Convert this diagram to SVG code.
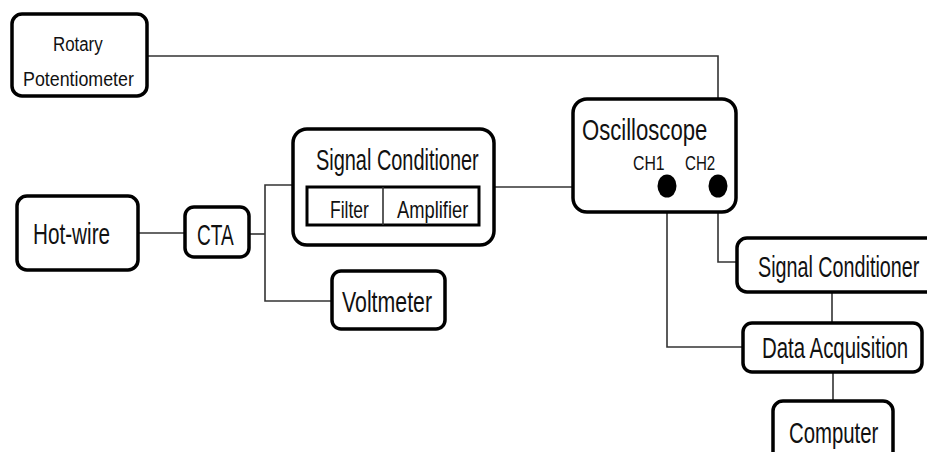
<svg xmlns="http://www.w3.org/2000/svg" width="927" height="452" viewBox="0 0 927 452">
<style>
.box{fill:#fff;stroke:#000;stroke-width:3.5}
.inner{fill:#fff;stroke:#000;stroke-width:3}
.ln{fill:none;stroke:#333;stroke-width:1.6}
text{font-family:"Liberation Sans",Arial,sans-serif;fill:#111}
.big{font-size:29px}
.mid{font-size:23px}
.sm{font-size:21px}
</style>
<rect width="927" height="452" fill="#fff"/>
<g id="connectors">
<path class="ln" d="M147,56 H718 V262 H737"/>
<path class="ln" d="M494,187 H667"/>
<path class="ln" d="M667,186 V347 H743"/>
<path class="ln" d="M832,292 V323"/>
<path class="ln" d="M833,372 V401"/>
<path class="ln" d="M138,233 H185"/>
<path class="ln" d="M249,234 H265"/>
<path class="ln" d="M293,185 H265 V301 H332"/>
</g>
<g id="rotary">
<rect class="box" x="12" y="14" width="135" height="82" rx="10"/>
<text class="sm" transform="translate(53,51) scale(0.72,1)" textLength="69" lengthAdjust="spacingAndGlyphs">Rotary</text>
<text class="sm" transform="translate(23,86) scale(0.72,1)" textLength="154" lengthAdjust="spacingAndGlyphs">Potentiometer</text>
</g>
<g id="hotwire">
<rect class="box" x="17" y="196" width="121" height="74" rx="10"/>
<text class="big" transform="translate(33,244) scale(0.72,1)" textLength="107" lengthAdjust="spacingAndGlyphs">Hot-wire</text>
</g>
<g id="cta">
<rect class="box" x="185" y="207" width="64" height="50" rx="9"/>
<text class="big" transform="translate(197,245) scale(0.72,1)" textLength="51" lengthAdjust="spacingAndGlyphs">CTA</text>
</g>
<g id="signal-conditioner-1">
<rect class="box" x="293" y="129" width="201" height="116" rx="14"/>
<text class="big" transform="translate(316,170) scale(0.72,1)" textLength="226" lengthAdjust="spacingAndGlyphs">Signal Conditioner</text>
<rect class="inner" x="307" y="187" width="172" height="38"/>
<line x1="383" y1="187" x2="383" y2="225" stroke="#333" stroke-width="1.6"/>
<text class="mid" transform="translate(330,218) scale(0.72,1)" textLength="54" lengthAdjust="spacingAndGlyphs">Filter</text>
<text class="mid" transform="translate(397,218) scale(0.72,1)" textLength="99" lengthAdjust="spacingAndGlyphs">Amplifier</text>
</g>
<g id="voltmeter">
<rect class="box" x="332" y="271" width="113" height="58" rx="9"/>
<text class="big" transform="translate(342,312) scale(0.72,1)" textLength="125" lengthAdjust="spacingAndGlyphs">Voltmeter</text>
</g>
<g id="oscilloscope">
<rect class="box" x="573" y="99" width="163" height="113" rx="14"/>
<text class="big" transform="translate(582,140) scale(0.72,1)" textLength="174" lengthAdjust="spacingAndGlyphs">Oscilloscope</text>
<text class="sm" transform="translate(633,170) scale(0.72,1)" textLength="44" lengthAdjust="spacingAndGlyphs">CH1</text>
<text class="sm" transform="translate(685,170) scale(0.72,1)" textLength="42" lengthAdjust="spacingAndGlyphs">CH2</text>
<ellipse cx="667" cy="186" rx="9.5" ry="11.5" fill="#000"/>
<ellipse cx="718" cy="186" rx="9.5" ry="11.5" fill="#000"/>
</g>
<g id="signal-conditioner-2">
<rect class="box" x="737" y="238" width="205" height="54" rx="10"/>
<text class="big" transform="translate(758,277) scale(0.72,1)" textLength="224" lengthAdjust="spacingAndGlyphs">Signal Conditioner</text>
</g>
<g id="data-acquisition">
<rect class="box" x="743" y="323" width="179" height="49" rx="9"/>
<text class="big" transform="translate(762,358) scale(0.72,1)" textLength="203" lengthAdjust="spacingAndGlyphs">Data Acquisition</text>
</g>
<g id="computer">
<rect class="box" x="773" y="401" width="120" height="70" rx="10"/>
<text class="big" transform="translate(789,443) scale(0.72,1)" textLength="124" lengthAdjust="spacingAndGlyphs">Computer</text>
</g>
</svg>
